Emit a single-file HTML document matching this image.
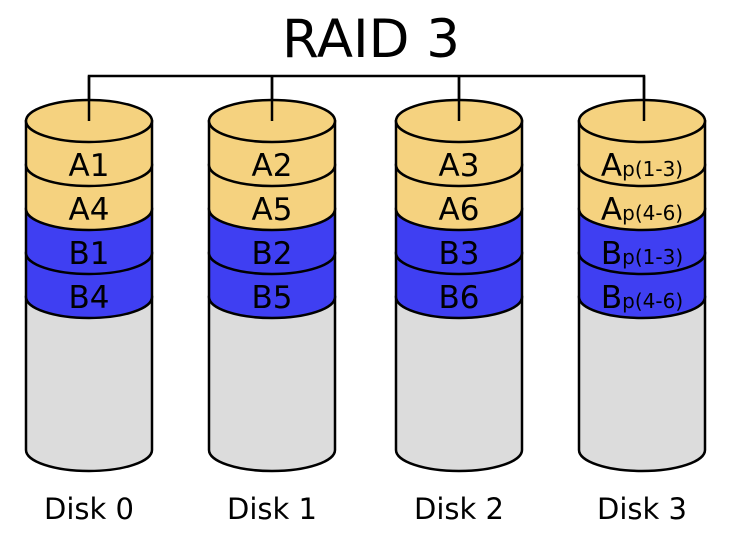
<!DOCTYPE html>
<html><head><style>html,body{margin:0;padding:0;background:#fff}svg{display:block}</style></head>
<body>
<svg width="743" height="550" viewBox="0 0 743 550" xmlns="http://www.w3.org/2000/svg" font-family="'DejaVu Sans','Liberation Sans',sans-serif">
<text x="371" y="57" font-size="53" text-anchor="middle">RAID 3</text>
<path d="M89 121 V76 H644 V121 M272 76 V121 M459 76 V121" fill="none" stroke="#000" stroke-width="2.5"/>
<script>
const centers=[89,272,459,642];
const labels=[
 [["A1"],["A4"],["B1"],["B4"]],
 [["A2"],["A5"],["B2"],["B5"]],
 [["A3"],["A6"],["B3"],["B6"]],
 [["A","p(1-3)"],["A","p(4-6)"],["B","p(1-3)"],["B","p(4-6)"]]
];
const ns="http://www.w3.org/2000/svg";
const svg=document.querySelector('svg');
const rx=63, ry=21, sw=2.5;
function band(L,R,t,b,fill){
 const p=document.createElementNS(ns,'path');
 p.setAttribute('d',`M${L} ${t} V${b} A${rx} ${ry} 0 0 0 ${R} ${b} V${t} Z`);
 p.setAttribute('fill',fill);p.setAttribute('stroke','#000');p.setAttribute('stroke-width',sw);
 svg.appendChild(p);
}
centers.forEach((cx,i)=>{
 const L=cx-rx,R=cx+rx;
 band(L,R,297,450,'#dcdcdc');
 band(L,R,253,297,'#3f3ff2');
 band(L,R,209,253,'#3f3ff2');
 band(L,R,165,209,'#f5d27f');
 band(L,R,121,165,'#f5d27f');
 const e=document.createElementNS(ns,'ellipse');
 e.setAttribute('cx',cx);e.setAttribute('cy',121);e.setAttribute('rx',rx);e.setAttribute('ry',ry);
 e.setAttribute('fill','#f5d27f');e.setAttribute('stroke','#000');e.setAttribute('stroke-width',sw);
 svg.appendChild(e);
 labels[i].forEach((lb,j)=>{
  const y=176+44*j;
  const t=document.createElementNS(ns,'text');
  t.setAttribute('x',cx);t.setAttribute('y',y);t.setAttribute('text-anchor','middle');t.setAttribute('font-size','31');
  t.textContent=lb[0];
  if(lb.length>1){
   const s=document.createElementNS(ns,'tspan');s.setAttribute('font-size','20');s.textContent=lb[1];t.appendChild(s);
  }
  svg.appendChild(t);
 });
 const d=document.createElementNS(ns,'text');
 d.setAttribute('x',cx);d.setAttribute('y',519);d.setAttribute('text-anchor','middle');d.setAttribute('font-size','29');
 d.textContent='Disk '+i;svg.appendChild(d);
});
const c=document.createElementNS(ns,'path');
c.setAttribute('d','M89 76 V121 M272 76 V121 M459 76 V121 M644 76 V121');
c.setAttribute('stroke','#000');c.setAttribute('stroke-width','2.5');c.setAttribute('fill','none');
svg.appendChild(c);
</script>
</svg>
</body></html>
